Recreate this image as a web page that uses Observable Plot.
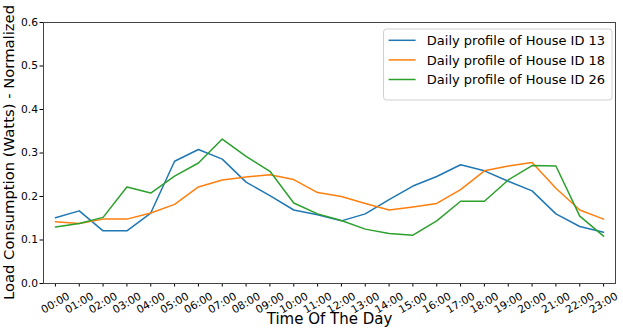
<!DOCTYPE html>
<html>
<head>
<meta charset="utf-8">
<script src="https://cdn.jsdelivr.net/npm/d3@7"></script>
<script src="https://cdn.jsdelivr.net/npm/@observablehq/plot@0.6"></script>
<style>
  html, body { margin: 0; padding: 0; background: #fff; }
  svg text { font-family: "DejaVu Sans", sans-serif; }
</style>
</head>
<body>
<div id="chart"></div>
<script>
const hours = ["00:00","01:00","02:00","03:00","04:00","05:00","06:00","07:00","08:00","09:00","10:00","11:00",
               "12:00","13:00","14:00","15:00","16:00","17:00","18:00","19:00","20:00","21:00","22:00","23:00"];
const house13 = [0.151,0.167,0.121,0.121,0.162,0.281,0.308,0.286,0.233,0.202,0.169,0.158,
                 0.144,0.160,0.193,0.224,0.246,0.273,0.259,0.235,0.213,0.160,0.131,0.118];
const house18 = [0.142,0.138,0.148,0.148,0.162,0.182,0.222,0.238,0.245,0.250,0.239,0.209,
                 0.200,0.184,0.169,0.176,0.184,0.216,0.259,0.270,0.278,0.219,0.169,0.148];
const house26 = [0.130,0.138,0.152,0.222,0.208,0.247,0.277,0.332,0.292,0.258,0.185,0.160,
                 0.145,0.125,0.115,0.111,0.144,0.189,0.189,0.238,0.271,0.270,0.155,0.109];
const seriesNames = ["Daily profile of House ID 13","Daily profile of House ID 18","Daily profile of House ID 26"];
const seriesColors = ["#1f77b4","#ff7f0e","#2ca02c"];
const yTicks = [0, 0.1, 0.2, 0.3, 0.4, 0.5, 0.6];
const xLabel = "Time Of The Day";
const yLabel = "Load Consumption (Watts) - Normalized";

const allSeries = [house13, house18, house26];
const rows = [];
allSeries.forEach((vals, s) => vals.forEach((v, i) => rows.push({series: seriesNames[s], hour: i, value: v})));

const svg = Plot.plot({
  width: 623,
  height: 334,
  marginLeft: 43,
  marginRight: 8,
  marginTop: 22,
  marginBottom: 51,
  style: {fontFamily: "DejaVu Sans", fontSize: "10.7px", color: "#000", background: "#fff"},
  x: {domain: [-0.5, 23.5], ticks: d3.range(hours.length), tickSize: 3.5, tickFormat: () => "", label: null},
  y: {domain: [0, 0.6], ticks: yTicks, tickSize: 3.5, tickPadding: 2, tickFormat: d3.format(".1f"), label: null},
  color: {domain: seriesNames, range: seriesColors},
  marks: [
    Plot.frame({stroke: "#444", strokeWidth: 1}),
    Plot.line(rows, {x: "hour", y: "value", z: "series", stroke: "series", strokeWidth: 1.5}),
    Plot.text(hours, {x: (d, i) => i, frameAnchor: "bottom", dy: 19.5, rotate: -30,
      textAnchor: "middle", lineAnchor: "middle", fontSize: 10.7, fill: "#000"}),
    Plot.text([xLabel], {frameAnchor: "bottom", dy: 40, fontSize: 15, fill: "#000"})
  ]
});
document.getElementById("chart").appendChild(svg);

const sel = d3.select(svg);
// Y axis title (rotated)
sel.append("text")
  .attr("transform", "translate(13.5,152.5) rotate(-90)")
  .attr("text-anchor", "middle")
  .attr("font-family", "DejaVu Sans")
  .attr("font-size", 14.8)
  .attr("fill", "#000")
  .text(yLabel);

// Legend (upper right)
const lg = sel.append("g").attr("font-family", "DejaVu Sans").attr("font-size", 13).attr("text-anchor", "start");
lg.append("rect").attr("x", 383.5).attr("y", 29).attr("width", 228.5).attr("height", 71)
  .attr("rx", 3).attr("fill", "#fff").attr("fill-opacity", 0.8).attr("stroke", "#d0d0d0");
seriesNames.forEach((name, i) => {
  const yy = 40.3 + i * 19.6;
  lg.append("line").attr("x1", 388.6).attr("x2", 415.6).attr("y1", yy).attr("y2", yy)
    .attr("stroke", seriesColors[i]).attr("stroke-width", 1.5);
  lg.append("text").attr("x", 426.8).attr("y", yy).attr("dy", "0.36em").attr("text-anchor", "start")
    .attr("fill", "#000").text(name);
});
</script>
</body>
</html>
